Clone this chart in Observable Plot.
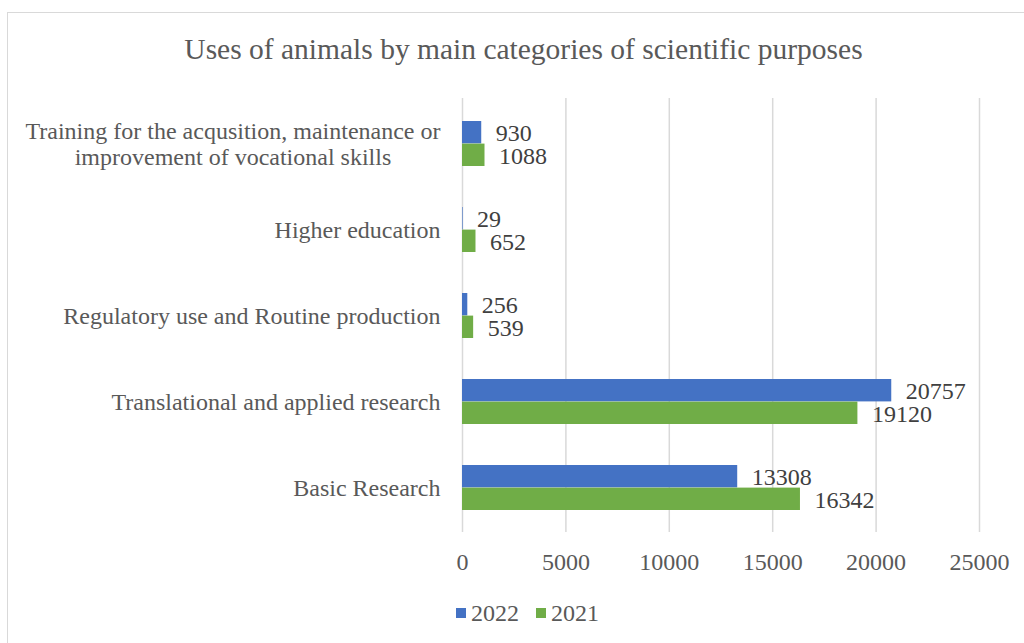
<!DOCTYPE html>
<html>
<head>
<meta charset="utf-8">
<script src="https://cdn.jsdelivr.net/npm/d3@7"></script>
<script src="https://cdn.jsdelivr.net/npm/@observablehq/plot@0.6"></script>
<style>
  html, body { margin: 0; padding: 0; background: #fff; }
  #wrap { position: relative; width: 1024px; height: 643px; overflow: hidden; font-family: "Liberation Serif", "Times New Roman", serif; }
  #frame { position: absolute; left: 7px; top: 12px; width: 1100px; height: 700px; border: 1px solid #d9d9d9; box-sizing: border-box; }
  #title { position: absolute; left: 0; width: 1047px; top: 31px; text-align: center; font-size: 29.5px; line-height: 36px; color: #595959; }
  #chart { position: absolute; left: 0; top: 0; }
  #legend { position: absolute; top: 599px; left: 456px; font-size: 24px; line-height: 28px; color: #595959; display: flex; align-items: center; }
  #legend .sw { display: inline-block; width: 10px; height: 10px; margin-right: 5px; }
  #legend .item { display: flex; align-items: center; margin-right: 17px; }
</style>
</head>
<body>
<div id="wrap">
  <div id="frame"></div>
  <div id="chart"></div>
  <div id="title">Uses of animals by main categories of scientific purposes</div>
  <div id="legend"></div>
</div>
<script>
const categories = [
  "Training for the acqusition, maintenance or\nimprovement of vocational skills",
  "Higher education",
  "Regulatory use and Routine production",
  "Translational and applied research",
  "Basic Research"
];
const years = ["2022", "2021"];
const values2022 = [930, 29, 256, 20757, 13308];
const values2021 = [1088, 652, 539, 19120, 16342];
const xTicks = [0, 5000, 10000, 15000, 20000, 25000];
const colors = {"2022": "#4472C4", "2021": "#70AD47"};

const rows = [];
categories.forEach((c, i) => {
  rows.push({category: c, year: "2022", value: values2022[i]});
  rows.push({category: c, year: "2021", value: values2021[i]});
});
const r22 = rows.filter(d => d.year === "2022");
const r21 = rows.filter(d => d.year === "2021");

const plot = Plot.plot({
  width: 1024,
  height: 643,
  marginLeft: 462,
  marginRight: 45,
  marginTop: 98,
  marginBottom: 111,
  style: {fontFamily: "Liberation Serif, Times New Roman, serif", fontSize: "24px", color: "#595959", background: "transparent", overflow: "visible"},
  x: {domain: [0, 25000], ticks: xTicks},
  y: {domain: categories, paddingInner: 0.48, paddingOuter: 0.24},
  marks: [
    Plot.gridX(xTicks, {stroke: "#d9d9d9", strokeOpacity: 1, strokeWidth: 1.5}),
    Plot.axisX({ticks: xTicks, tickSize: 0, tickPadding: 20, tickFormat: d => String(d), label: null, fontSize: 24, fill: "#595959"}),
    Plot.axisY({tickSize: 0, tickPadding: 22, label: null, fontSize: 24, fill: "#595959", lineHeight: 1.08}),
    Plot.barX(r22, {y: "category", x: "value", fill: colors["2022"], insetBottom: 22.6, insetTop: 0}),
    Plot.barX(r21, {y: "category", x: "value", fill: colors["2021"], insetTop: 22.6, insetBottom: 0}),
    Plot.text(r22, {y: "category", x: "value", text: d => String(d.value), textAnchor: "start", dx: 14, dy: -11, fontSize: 24, fill: "#404040"}),
    Plot.text(r21, {y: "category", x: "value", text: d => String(d.value), textAnchor: "start", dx: 14, dy: 12, fontSize: 24, fill: "#404040"})
  ]
});
document.getElementById("chart").appendChild(plot);

// center-align the multi-line category label like the original
plot.querySelectorAll('g[aria-label="y-axis tick label"] text').forEach(t => {
  const spans = t.querySelectorAll("tspan");
  if (spans.length > 1) {
    const w = t.getBBox().width;
    t.setAttribute("text-anchor", "middle");
    spans.forEach(s => s.setAttribute("x", -w / 2));
  }
});

const legend = document.getElementById("legend");
years.forEach(y => {
  const item = document.createElement("span");
  item.className = "item";
  const sw = document.createElement("span");
  sw.className = "sw";
  sw.style.background = colors[y];
  item.appendChild(sw);
  item.appendChild(document.createTextNode(y));
  legend.appendChild(item);
});
</script>
</body>
</html>
